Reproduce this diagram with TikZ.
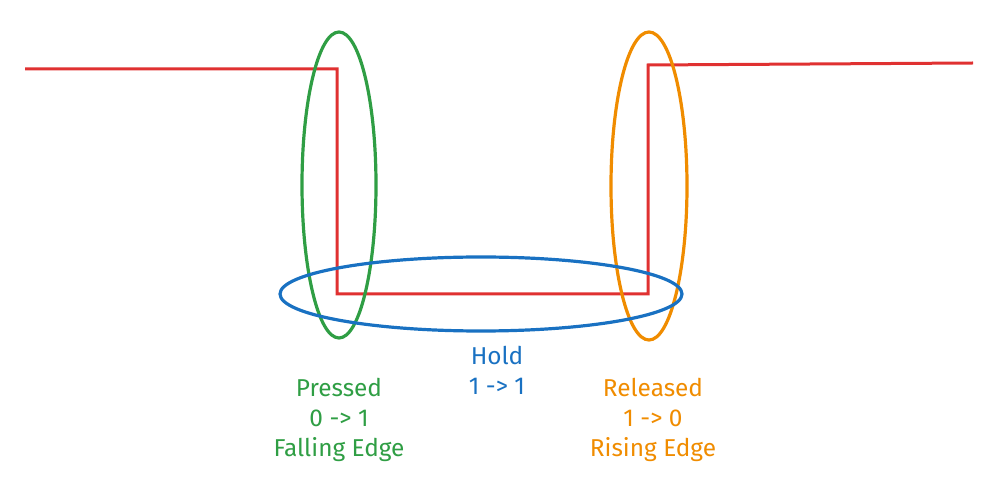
\documentclass[tikz,border=0pt]{standalone}
\usepackage{fontspec}
\setmainfont{Fira Sans}
\usetikzlibrary{positioning}
\definecolor{signal}{HTML}{E03131}
\definecolor{press}{HTML}{2F9E44}
\definecolor{hold}{HTML}{1971C2}
\definecolor{release}{HTML}{F08C00}

\begin{document}
\begin{tikzpicture}[
  x=0.5pt, y=-0.5pt,
  wave/.style={draw=signal, line width=1.5pt, line join=miter},
  ring/.style={line width=1.6pt},
  lbl/.style={font=\fontsize{12.2}{15}\selectfont, align=center, inner sep=0pt}
]
  \useasboundingbox (0,0) rectangle (997,486);

  % signal
  \coordinate (start) at (25,69);
  \coordinate (fall) at (337,69);
  \coordinate (low) at (337,294);
  \coordinate (lowend) at (648,294);
  \coordinate (rise) at (648,65);
  \coordinate (stop) at (973,63);
  \draw[wave] (start) -- (fall) -- (low) -- (lowend) -- (rise) -- (stop);

  % edges
  \draw[ring, press] (339,185) ellipse (37 and 153);
  \draw[ring, release] (649,186) ellipse (38 and 154);
  \draw[ring, hold] (481,294) ellipse (201 and 37);

  % labels
  \node[lbl, hold] (holdlbl) at (497,370) {Hold\\1 -> 1};
  \node[lbl, press] (presslbl) at (339,420) {Pressed\\0 -> 1\\Falling Edge};
  \node[lbl, release] (releaselbl) at (653,420) {Released\\1 -> 0\\Rising Edge};
\end{tikzpicture}
\end{document}
